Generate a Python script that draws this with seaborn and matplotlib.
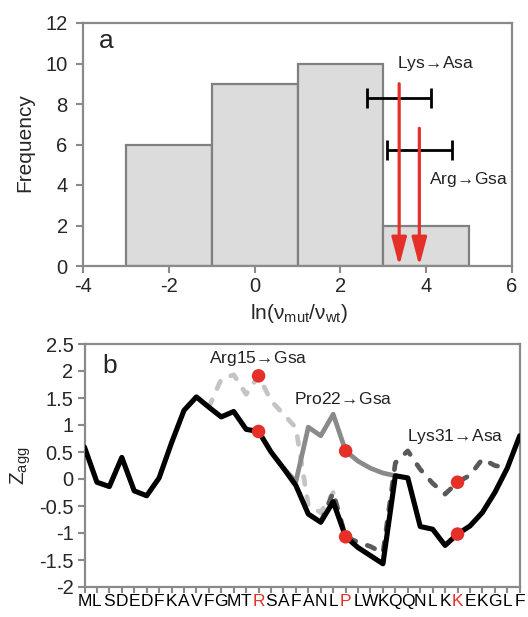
import numpy as np
import pandas as pd
import matplotlib
matplotlib.use("Agg")
import matplotlib.pyplot as plt
import seaborn as sns

sns.set_style("white")
plt.rcParams["font.family"] = ["Liberation Sans", "DejaVu Sans"]
plt.rcParams["mathtext.fontset"] = "custom"
plt.rcParams["mathtext.rm"] = "Liberation Sans"
plt.rcParams["mathtext.it"] = "Liberation Sans:italic"
plt.rcParams["mathtext.fallback"] = "cm"
plt.rcParams["axes.unicode_minus"] = False

nan = np.nan
ARW = "$\\!{\\rightarrow}\\!$"

# ---------------- panel a data ----------------
bin_edges = [-3, -1, 1, 3, 5]
bin_centers = [-2, 0, 2, 4]
bin_counts = [6, 9, 10, 2]
mut_labels_a = ["Lys" + ARW + "Asa", "Arg" + ARW + "Gsa"]
mut_lnratio = [3.37, 3.84]
mut_err = [0.75, 0.75]
errbar_y = [8.3, 5.73]
arrow_top = [9.0, 6.8]
label_pos_a = [(4.22, 10.0), (4.98, 4.25)]

# ---------------- panel b data ----------------
sequence = list("MLSDEDFKAVFGMTRSAFANLPLWKQQNLKKEKGLF")
z_wt = [0.59, -0.06, -0.14, 0.40, -0.22, -0.31, 0.02, 0.67, 1.27, 1.52,
        1.33, 1.15, 1.25, 0.92, 0.88, 0.50, 0.20, -0.12, -0.65, -0.80,
        -0.42, -1.07, -1.27, -1.42, -1.57, 0.06, 0.02, -0.88, -0.93, -1.23,
        -1.02, -0.87, -0.62, -0.25, 0.20, 0.80]
z_arg15 = [nan, nan, nan, nan, nan, nan, nan, nan, nan, nan,
           1.33, 1.85, 1.93, 1.57, 1.91, 1.45, 1.20, 0.95, -0.49, -0.62,
           -0.25, nan, nan, nan, nan, nan, nan, nan, nan, nan,
           nan, nan, nan, nan, nan, nan]
z_pro22 = [nan, nan, nan, nan, nan, nan, nan, nan, nan, nan,
           nan, nan, nan, nan, nan, nan, 0.20, -0.05, 0.96, 0.80,
           1.20, 0.52, 0.33, 0.20, 0.11, 0.06, nan, nan, nan, nan,
           nan, nan, nan, nan, nan, nan]
z_lys31 = [nan, nan, nan, nan, nan, nan, nan, nan, nan, nan,
           nan, nan, nan, nan, nan, nan, nan, nan, nan, -0.80,
           -0.25, -1.07, -1.17, -1.25, -1.37, 0.30, 0.52, 0.18, -0.08, -0.28,
           -0.06, 0.07, 0.37, 0.25, 0.20, nan]
mut_sites = [14, 21, 30]
mut_names_b = ["Arg15" + ARW + "Gsa", "Pro22" + ARW + "Gsa", "Lys31" + ARW + "Asa"]
label_pos_b = [(14.0, 2.23), (20.8, 1.49), (29.8, 0.78)]
yticks_b = [-2, -1.5, -1, -0.5, 0, 0.5, 1, 1.5, 2, 2.5]
ytick_labels_b = ["-2", "-1.5", "-1", "-0.5", "0", "0.5", "1", "1.5", "2", "2.5"]

RED = "#e5302a"
SPINE = "#8a8a8a"

fig = plt.figure(figsize=(5.28, 6.17), dpi=100)
ax1 = fig.add_axes([83 / 528, 1 - 266 / 617, 429 / 528, 243 / 617])
ax2 = fig.add_axes([84.5 / 528, 1 - 587 / 617, 435.2 / 528, 243 / 617])

# ---------------- panel a ----------------
sns.histplot(x=bin_centers, weights=bin_counts, bins=bin_edges, ax=ax1,
             color="#dcdcdc", edgecolor="#808080", linewidth=1.6, alpha=1)
ax1.errorbar(mut_lnratio, errbar_y, xerr=mut_err, fmt="none", ecolor="black",
             elinewidth=2.0, capsize=7, capthick=2.0, zorder=4)
for x, yt in zip(mut_lnratio, arrow_top):
    ax1.annotate("", xy=(x, 0), xytext=(x, yt),
                 arrowprops=dict(arrowstyle="-|>,head_length=1.7,head_width=0.45",
                                 color=RED, lw=2.3, mutation_scale=10,
                                 shrinkA=0, shrinkB=0), zorder=5)
for txt, (x, y) in zip(mut_labels_a, label_pos_a):
    ax1.text(x, y, txt, ha="center", va="center", fontsize=12.5, color="#222222")
ax1.set_xlim(-4, 6)
ax1.set_ylim(0, 12)
ax1.set_xticks([-4, -2, 0, 2, 4, 6])
ax1.set_yticks([0, 2, 4, 6, 8, 10, 12])
ax1.set_ylabel("Frequency", fontsize=15)
ax1.yaxis.set_label_coords(-0.113, 0.506)
ax1.set_xlabel("ln(\u03bd$_{\\mathrm{mut}}$/\u03bd$_{\\mathrm{wt}}$)", fontsize=15)
ax1.xaxis.set_label_coords(0.503, -0.15)
ax1.tick_params(axis="both", direction="out", length=5, width=1.5, color=SPINE,
                labelsize=14.5, left=True, bottom=True)
ax1.tick_params(axis="y", pad=6)
ax1.tick_params(axis="x", pad=3)
ax1.text(0.038, 0.925, "a", transform=ax1.transAxes, fontsize=19,
         ha="left", va="center")

# ---------------- panel b ----------------
pos = np.arange(len(sequence))
styles = [
    (z_arg15, "#c4c4c4", (0, (1.7, 2.6))),
    (z_pro22, "#8a8a8a", "-"),
    (z_lys31, "#5a5a5a", (0, (1.7, 2.6))),
]
for vals, col, ls in styles:
    d = pd.DataFrame({"pos": pos, "z": vals}).dropna()
    sns.lineplot(data=d, x="pos", y="z", ax=ax2, color=col, linewidth=3.4,
                 linestyle=ls, dash_capstyle="round", solid_capstyle="round",
                 solid_joinstyle="round", zorder=2)
dwt = pd.DataFrame({"pos": pos, "z": z_wt})
sns.lineplot(data=dwt, x="pos", y="z", ax=ax2, color="black", linewidth=3.7,
             solid_capstyle="round", solid_joinstyle="round", zorder=3)

dot_x = []
dot_y = []
for s, mut in zip(mut_sites, [z_arg15, z_pro22, z_lys31]):
    dot_x += [s, s]
    dot_y += [z_wt[s], mut[s]]
sns.scatterplot(x=dot_x, y=dot_y, ax=ax2, color=RED, s=95, edgecolor="none",
                zorder=6)
for txt, (x, y) in zip(mut_names_b, label_pos_b):
    ax2.text(x, y, txt, ha="center", va="center", fontsize=12.5, color="#222222")

ax2.set_xlim(0, 35)
ax2.set_ylim(-2, 2.5)
ax2.set_xticks(pos)
ax2.set_xticklabels(sequence)
for i, lab in enumerate(ax2.get_xticklabels()):
    lab.set_color(RED if i in mut_sites else "black")
ax2.set_yticks(yticks_b)
ax2.set_yticklabels(ytick_labels_b)
ax2.set_xlabel("")
ax2.set_ylabel("Z$_{\\mathrm{agg}}$", fontsize=15)
ax2.yaxis.set_label_coords(-0.118, 0.5)
ax2.tick_params(axis="both", direction="out", length=5, width=1.5, color=SPINE,
                left=True, bottom=True)
ax2.tick_params(axis="y", labelsize=14.5, pad=3)
ax2.tick_params(axis="x", labelsize=12.5, pad=1, length=4)
ax2.text(0.04, 0.91, "b", transform=ax2.transAxes, fontsize=19,
         ha="left", va="center")

for ax in (ax1, ax2):
    for sp in ax.spines.values():
        sp.set_color(SPINE)
        sp.set_linewidth(1.6)
        sp.set_visible(True)

fig.savefig("out.png", dpi=100)
